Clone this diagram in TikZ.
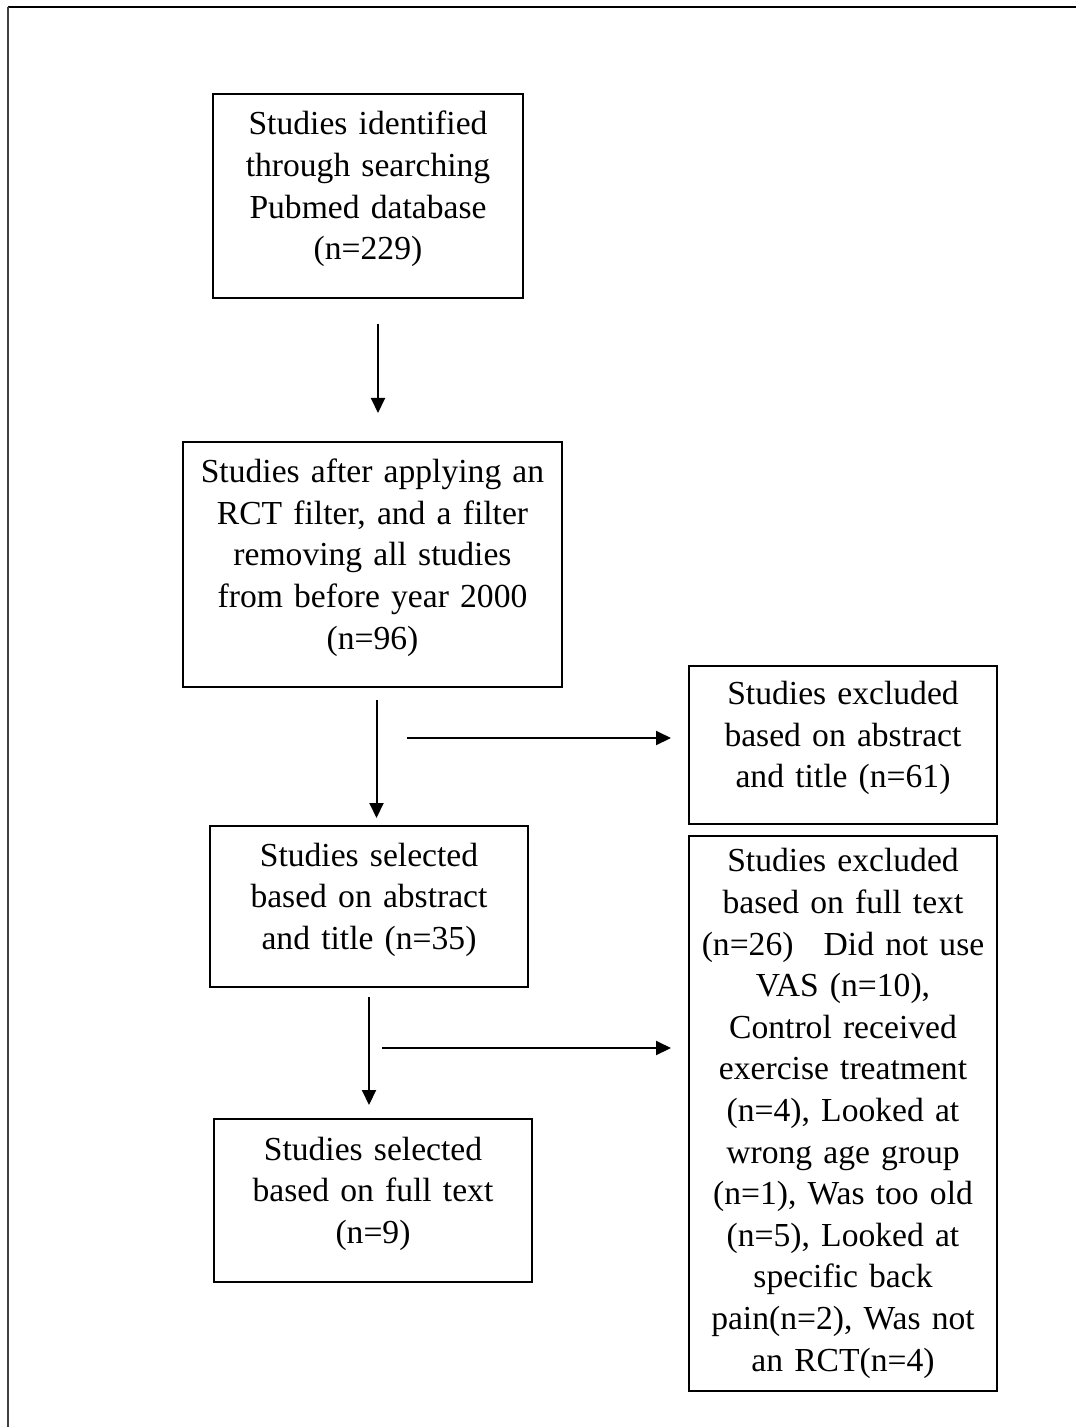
\documentclass[tikz,border=0pt]{standalone}
\usepackage{fontspec}
\setmainfont{Liberation Serif}
\usetikzlibrary{arrows.meta}

\tikzset{
  flowbox/.style={draw, line width=1pt, align=center, inner sep=0pt,
    font=\fontsize{16.8}{20.8}\selectfont},
  padbox/.style={execute at end node={\rule[-10.5pt]{0pt}{10.5pt}}},
  flowarrow/.style={line width=1pt, -{Triangle[length=7.5pt,width=7pt]}}
}

\begin{document}
\begin{tikzpicture}[x=0.5pt,y=0.5pt]
  \useasboundingbox (0,0) rectangle (1076,-1427);

  % Page frame
  \draw[line width=1.3pt] (8,-7) -- (1076,-7);
  \draw[line width=0.7pt,black!75] (8,-7) -- (8,-1427);

  % Left column
  \node[flowbox,padbox,minimum width=155pt,minimum height=102pt,text width=145pt] (identified) at (368,-196)
    {Studies identified\\through searching\\Pubmed database\\(n=229)};
  \node[flowbox,padbox,minimum width=189.5pt,minimum height=122.5pt,text width=180pt] (filtered) at (372.5,-564.5)
    {Studies after applying an\\RCT filter, and a filter\\removing all studies\\from before year 2000\\(n=96)};
  \node[flowbox,padbox,minimum width=159pt,minimum height=80.5pt,text width=150pt] (selectedabs) at (369,-906.5)
    {Studies selected\\based on abstract\\and title (n=35)};
  \node[flowbox,padbox,minimum width=159pt,minimum height=81.5pt,text width=150pt] (selectedfull) at (373,-1200.5)
    {Studies selected\\based on full text\\(n=9)};

  % Right column
  \node[flowbox,padbox,minimum width=154pt,minimum height=79pt,text width=146pt] (excludedabs) at (843,-745)
    {Studies excluded\\based on abstract\\and title (n=61)};
  \node[flowbox,minimum width=154pt,minimum height=277.5pt,text width=146pt] (excludedfull) at (843,-1113.5)
    {Studies excluded\\based on full text\\(n=26)\hspace{0.9em}Did not use\\VAS (n=10),\\Control received\\exercise treatment\\(n=4), Looked at\\wrong age group\\(n=1), Was too old\\(n=5), Looked at\\specific back\\pain(n=2), Was not\\an RCT(n=4)};

  % Arrow ends
  \coordinate (down1s) at (378,-324);
  \coordinate (down1e) at (378,-413);
  \coordinate (down2s) at (376.5,-700);
  \coordinate (down2e) at (376.5,-818);
  \coordinate (down3s) at (369,-997);
  \coordinate (down3e) at (369,-1105);
  \coordinate (side1s) at (407,-738);
  \coordinate (side1e) at (671,-738);
  \coordinate (side2s) at (382,-1048);
  \coordinate (side2e) at (671,-1048);

  % Arrows
  \draw[flowarrow] (down1s) -- (down1e);
  \draw[flowarrow] (down2s) -- (down2e);
  \draw[flowarrow] (down3s) -- (down3e);
  \draw[flowarrow] (side1s) -- (side1e);
  \draw[flowarrow] (side2s) -- (side2e);
\end{tikzpicture}
\end{document}
